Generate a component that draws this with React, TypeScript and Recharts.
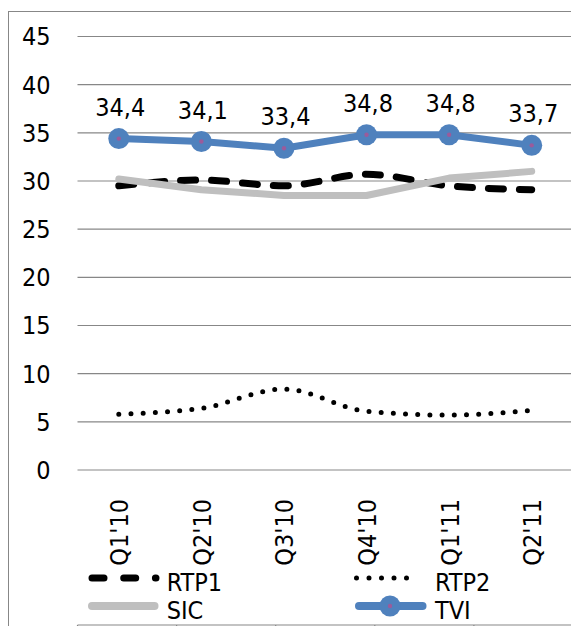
import React from "react";
import { LineChart, Line, XAxis, YAxis, CartesianGrid, Legend, LabelList } from "recharts";

const categories = ["Q1'10", "Q2'10", "Q3'10", "Q4'10", "Q1'11", "Q2'11"];
const rtp1 = [29.5, 30.1, 29.5, 30.7, 29.5, 29.1];
const rtp2 = [5.8, 6.4, 8.4, 6.1, 5.7, 6.2];
const sic = [30.2, 29.1, 28.5, 28.5, 30.3, 31.0];
const tvi = [34.4, 34.1, 33.4, 34.8, 34.8, 33.7];
const yTicks = [0, 5, 10, 15, 20, 25, 30, 35, 40, 45];
const edgeTicks = [0, 1, 2, 3, 4, 5, 6];

const data = categories.map((q, i) => ({ q, RTP1: rtp1[i], RTP2: rtp2[i], SIC: sic[i], TVI: tvi[i] }));

const FONT = "'DejaVu Sans Condensed', 'DejaVu Sans', sans-serif";
const FS = 25;
const GRID = "#878787";
const BLUE = "#4f81bd";
const GREY = "#bfbfbf";
const DOT_CENTER = "#9b5b9b";

const XTick = (props: any) => {
  const { x, y, payload } = props;
  return (
    <text x={x} y={y} dy={9.4} transform={`rotate(-90, ${x}, ${y})`} textAnchor="end"
      fontFamily={FONT} fontSize={FS} fill="#000">{payload.value}</text>
  );
};

const TviDot = (props: any) => {
  const { cx, cy, index } = props;
  if (cx == null || cy == null) return null;
  return (
    <g key={`d${index}`}>
      <circle cx={cx} cy={cy} r={10.5} fill={BLUE} />
      <circle cx={cx} cy={cy} r={2.2} fill={DOT_CENTER} />
    </g>
  );
};

const TviLabel = (props: any) => {
  const { x, y, value } = props;
  return (
    <text x={x + 1.5} y={y - 23} textAnchor="middle" fontFamily={FONT} fontSize={FS} fill="#000">
      {String(value).replace(".", ",")}
    </text>
  );
};

const LegendContent = () => {
  const col1 = 88, col2 = 355, t1 = 166.7, t2 = 435;
  const r1 = 18, r2 = 46, b1 = 30.7, b2 = 59.3;
  const txt = (x: number, y: number, s: string) => (
    <text x={x} y={y} fontFamily={FONT} fontSize={FS} fill="#000">{s}</text>
  );
  return (
    <svg width={600} height={66} style={{ display: "block" }}>
      <line x1={col1 + 4} x2={col1 + 68} y1={r1} y2={r1} stroke="#000" strokeWidth={7}
        strokeDasharray="12 19.7" strokeLinecap="round" />
      {txt(t1, b1, "RTP1")}
      <line x1={col2 + 1.5} x2={col2 + 64} y1={r1} y2={r1} stroke="#000" strokeWidth={5}
        strokeDasharray="0 12.5" strokeLinecap="round" />
      {txt(t2, b1, "RTP2")}
      <line x1={col1 + 4} x2={col1 + 66.5} y1={r2} y2={r2} stroke={GREY} strokeWidth={8} strokeLinecap="round" />
      {txt(t1, b2, "SIC")}
      <line x1={col2 + 4} x2={col2 + 67.5} y1={r2} y2={r2} stroke={BLUE} strokeWidth={8} strokeLinecap="round" />
      <circle cx={390} cy={r2} r={10.5} fill={BLUE} />
      <circle cx={390} cy={r2} r={2.2} fill={DOT_CENTER} />
      {txt(t2, b2, "TVI")}
    </svg>
  );
};

export default function App() {
  return (
    <div style={{ position: "relative", width: 571, height: 626, overflow: "hidden" }}>
      <style>{`html,body{margin:0;padding:0;overflow:hidden;}`}</style>
      <div style={{ position: "absolute", left: 8, top: 11, width: 700, height: 700,
        borderLeft: `1px solid ${GRID}`, borderTop: `1px solid ${GRID}` }} />
      <div style={{ position: "absolute", left: 0, top: 0 }}>
        <LineChart width={600} height={626} data={data}
          margin={{ top: 36.5, right: 27, bottom: 0, left: 0 }}>
          <CartesianGrid vertical={false} stroke={GRID} strokeWidth={1.2} />
          <XAxis xAxisId="edges" type="number" domain={[0, 6]} ticks={edgeTicks} allowDataOverflow
            height={1} axisLine={{ stroke: GRID, strokeWidth: 1.2 }} tickLine={{ stroke: GRID, strokeWidth: 1.2 }}
            tickSize={6} tick={() => <g />} />
          <XAxis dataKey="q" scale="band" height={155} axisLine={false} tickLine={false}
            tickSize={0} tickMargin={29} interval={0} tick={<XTick />} />
          <YAxis width={77.5} domain={[0, 45]} ticks={yTicks} axisLine={false} tickLine={false}
            tickSize={0} tickMargin={27} interval={0}
            tick={{ fontFamily: FONT, fontSize: FS, fill: "#000" }} />
          <Line dataKey="RTP1" name="RTP1" type="monotone" stroke="#000" strokeWidth={7}
            strokeDasharray="15 16" strokeLinecap="round" dot={false} activeDot={false} isAnimationActive={false} />
          <Line dataKey="RTP2" name="RTP2" type="monotone" stroke="#000" strokeWidth={5}
            strokeDasharray="0 12.2" strokeLinecap="round" dot={false} activeDot={false} isAnimationActive={false} />
          <Line dataKey="SIC" name="SIC" type="linear" stroke={GREY} strokeWidth={7}
            strokeLinecap="round" strokeLinejoin="round" dot={false} activeDot={false} isAnimationActive={false} />
          <Line dataKey="TVI" name="TVI" type="linear" stroke={BLUE} strokeWidth={7}
            strokeLinecap="round" strokeLinejoin="round" dot={<TviDot />} activeDot={false} isAnimationActive={false}>
            <LabelList dataKey="TVI" content={<TviLabel />} />
          </Line>
          <Legend verticalAlign="middle" align="center" layout="horizontal"
            wrapperStyle={{ left: 0, top: 560, width: 600, height: 66 }} content={<LegendContent />} />
        </LineChart>
      </div>
    </div>
  );
}
